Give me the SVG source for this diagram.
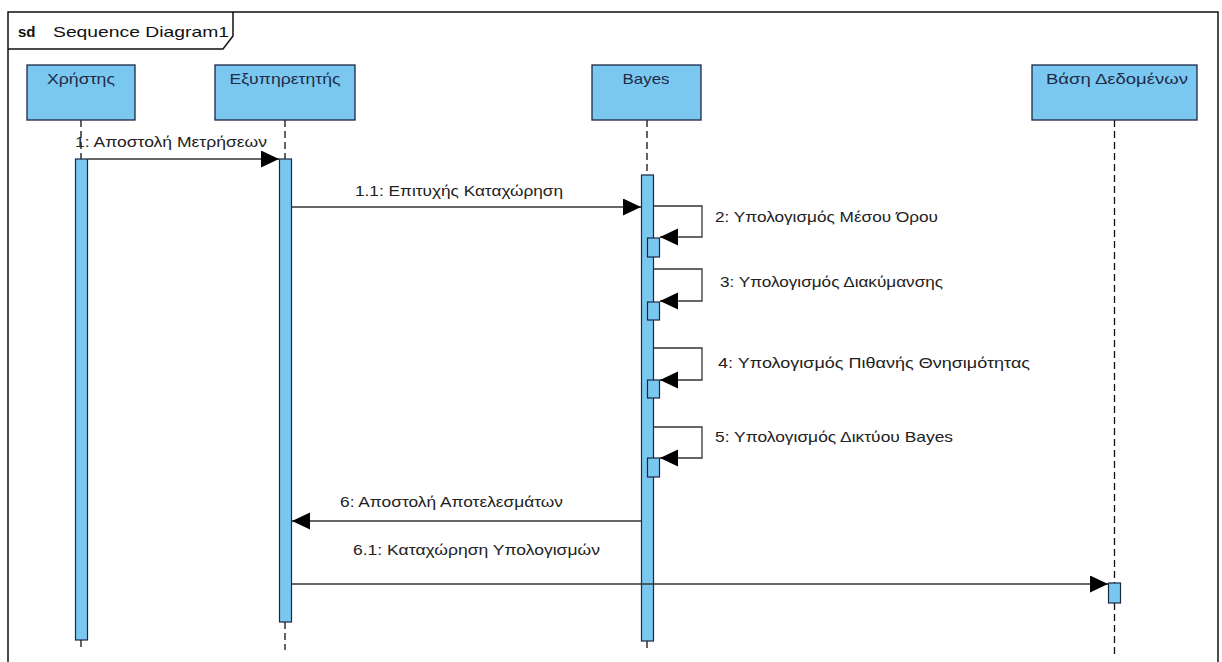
<svg xmlns="http://www.w3.org/2000/svg" width="1222" height="662" viewBox="0 0 1222 662">
  <defs>
    <marker id="arr" markerUnits="userSpaceOnUse" markerWidth="20" markerHeight="20" refX="18" refY="8.5" orient="auto">
      <path d="M0,0 L18,8.5 L0,17 z" fill="#000"/>
    </marker>
    <style>
      .head { fill: #7AC8F0; stroke: #1c2744; stroke-width: 1.3; }
      .act { fill: #7AC8F0; stroke: #1c2744; stroke-width: 1.2; }
      .life { stroke: #111; stroke-width: 1.3; stroke-dasharray: 7 4; fill: none; }
      .msg { stroke: #333; stroke-width: 1.3; fill: none; }
      .name { font-family: "Liberation Sans", Arial, sans-serif; font-size: 15px; fill: #1f2b48; text-anchor: middle; }
      .lbl { font-family: "Liberation Sans", Arial, sans-serif; font-size: 15px; fill: #222; }
      .frame { fill: none; stroke: #111; stroke-width: 1.5; }
    </style>
  </defs>
  <rect x="0" y="0" width="1222" height="662" fill="#fff"/>

  <g id="frame">
    <rect class="frame" x="8" y="12" width="1210" height="660"/>
    <path class="frame" d="M8,49 L223,49 L233,36 L233,12"/>
    <text x="18" y="37" style="font-family:'Liberation Sans',Arial,sans-serif;font-size:15px;font-weight:bold;fill:#111">sd</text>
    <text x="53" y="37" textLength="176" lengthAdjust="spacingAndGlyphs" style="font-family:'Liberation Sans',Arial,sans-serif;font-size:15px;fill:#111">Sequence Diagram1</text>
  </g>

  <g id="lifeline-xristis">
    <line class="life" x1="81" y1="120" x2="81" y2="160"/>
    <line class="life" x1="81" y1="640" x2="81" y2="650"/>
    <rect class="head" x="27" y="65" width="108" height="55"/>
    <text class="name" x="81" y="84" textLength="68" lengthAdjust="spacingAndGlyphs">Χρήστης</text>
    <rect class="act" x="75.5" y="159" width="12" height="481"/>
  </g>

  <g id="lifeline-exyp">
    <line class="life" x1="285" y1="120" x2="285" y2="160"/>
    <line class="life" x1="285" y1="622" x2="285" y2="650"/>
    <rect class="head" x="215" y="65" width="140" height="55"/>
    <text class="name" x="285" y="84" textLength="111" lengthAdjust="spacingAndGlyphs">Εξυπηρετητής</text>
    <rect class="act" x="279.5" y="159" width="12" height="463"/>
  </g>

  <g id="lifeline-bayes">
    <line class="life" x1="647" y1="120" x2="647" y2="176"/>
    <line class="life" x1="647" y1="641" x2="647" y2="652"/>
    <rect class="head" x="592" y="65" width="109" height="55"/>
    <text class="name" x="646" y="84" textLength="47" lengthAdjust="spacingAndGlyphs">Bayes</text>
    <rect class="act" x="641.5" y="175" width="12" height="466"/>
    <rect class="act" x="647.5" y="238" width="12" height="19"/>
    <rect class="act" x="647.5" y="302" width="12" height="18"/>
    <rect class="act" x="647.5" y="380" width="12" height="18"/>
    <rect class="act" x="647.5" y="458" width="12" height="19"/>
  </g>

  <g id="lifeline-db">
    <line class="life" x1="1114.5" y1="120" x2="1114.5" y2="584"/>
    <line class="life" x1="1114.5" y1="603" x2="1114.5" y2="656"/>
    <rect class="head" x="1032" y="65" width="165" height="55"/>
    <text class="name" x="1117" y="84" textLength="142" lengthAdjust="spacingAndGlyphs">Βάση Δεδομένων</text>
    <rect class="act" x="1108.5" y="583" width="12" height="20"/>
  </g>

  <g id="connectors">
    <line class="msg" x1="88" y1="159" x2="279" y2="159" marker-end="url(#arr)"/>
    <text class="lbl" x="75" y="147" textLength="192" lengthAdjust="spacingAndGlyphs">1: Αποστολή Μετρήσεων</text>

    <line class="msg" x1="292" y1="207" x2="641" y2="207" marker-end="url(#arr)"/>
    <text class="lbl" x="355" y="196" textLength="208" lengthAdjust="spacingAndGlyphs">1.1: Επιτυχής Καταχώρηση</text>

    <polyline class="msg" points="654,206 702,206 702,237 660,237" marker-end="url(#arr)"/>
    <text class="lbl" x="715" y="222" textLength="223" lengthAdjust="spacingAndGlyphs">2: Υπολογισμός Μέσου Όρου</text>

    <polyline class="msg" points="654,269 702,269 702,301 660,301" marker-end="url(#arr)"/>
    <text class="lbl" x="720" y="287" textLength="223" lengthAdjust="spacingAndGlyphs">3: Υπολογισμός Διακύμανσης</text>

    <polyline class="msg" points="654,348 702,348 702,380 660,380" marker-end="url(#arr)"/>
    <text class="lbl" x="718" y="368" textLength="312" lengthAdjust="spacingAndGlyphs">4: Υπολογισμός Πιθανής Θνησιμότητας</text>

    <polyline class="msg" points="654,427 702,427 702,458 660,458" marker-end="url(#arr)"/>
    <text class="lbl" x="715" y="442" textLength="238" lengthAdjust="spacingAndGlyphs">5: Υπολογισμός Δικτύου Bayes</text>

    <line class="msg" x1="641" y1="521" x2="292" y2="521" marker-end="url(#arr)"/>
    <text class="lbl" x="340" y="507" textLength="223" lengthAdjust="spacingAndGlyphs">6: Αποστολή Αποτελεσμάτων</text>

    <line class="msg" x1="292" y1="584" x2="1108" y2="584" marker-end="url(#arr)"/>
    <text class="lbl" x="353" y="555" textLength="247" lengthAdjust="spacingAndGlyphs">6.1: Καταχώρηση Υπολογισμών</text>
  </g>
</svg>
